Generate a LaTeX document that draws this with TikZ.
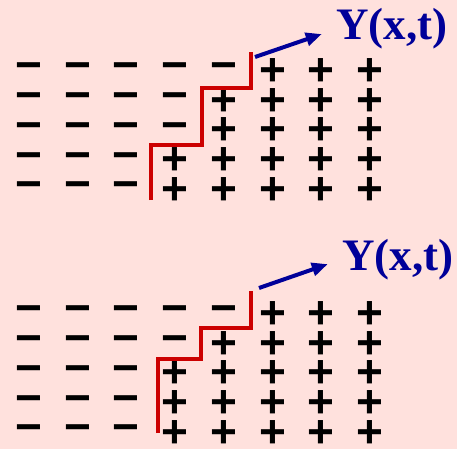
\documentclass[tikz,border=0pt]{standalone}
\usepackage{fontspec}
\setmainfont{Liberation Serif}
\newfontfamily\signfont{Liberation Sans}
\usetikzlibrary{arrows.meta}
\definecolor{bgpink}{HTML}{FFE1DD}
\definecolor{stepred}{HTML}{CC0000}
\definecolor{navy}{HTML}{000099}

\begin{document}
\begin{tikzpicture}[x=1pt, y=-1pt,
  signtxt/.style={inner sep=0pt, font=\signfont\fontsize{46}{46}\selectfont\bfseries},
  stair/.style={stepred, line width=4.5pt},
  lbl/.style={inner sep=0pt, anchor=base west, text=navy,
              font=\fontsize{45}{45}\selectfont\bfseries},
  fwd/.style={-{Triangle[length=16pt,width=13pt]}, navy, line width=4pt,
              shorten >=15pt}]
  \fill[bgpink] (0,0) rectangle (457,449);
  \useasboundingbox (0,0) rectangle (457,449);
  % upper grid: row / number of minus signs
  \foreach \r/\m in {1/5,2/4,3/4,4/3,5/3}{
    \foreach \c in {1,...,8}{
      \pgfmathsetmacro\xx{29+48.7*(\c-1)}
      \pgfmathsetmacro\yy{72+29.75*(\r-1)}
      \ifnum\c>\m
        \node[signtxt] (a\r\c) at (\xx,\yy) {+};
      \else
        \node[signtxt] (a\r\c) at (\xx,\yy) {−};
      \fi
    }
  }
  \draw[stair] (151,200) |- (202,145) |- (251,88) -- (251,52);
  \coordinate (ta) at (255,57);
  \node[lbl] (ya) at (336,40) {Y(x,t)};
  \draw[fwd] (ta) -- (ya.west);
  % lower grid
  \foreach \r/\m in {1/5,2/4,3/3,4/3,5/3}{
    \foreach \c in {1,...,8}{
      \pgfmathsetmacro\xx{29+48.7*(\c-1)}
      \pgfmathsetmacro\yy{315+29.75*(\r-1)}
      \ifnum\c>\m
        \node[signtxt] (b\r\c) at (\xx,\yy) {+};
      \else
        \node[signtxt] (b\r\c) at (\xx,\yy) {−};
      \fi
    }
  }
  \draw[stair] (158,433) |- (201,359) |- (251,328) -- (251,291);
  \coordinate (tb) at (259,288);
  \node[lbl] (yb) at (342,270) {Y(x,t)};
  \draw[fwd] (tb) -- (yb.west);
\end{tikzpicture}
\end{document}
